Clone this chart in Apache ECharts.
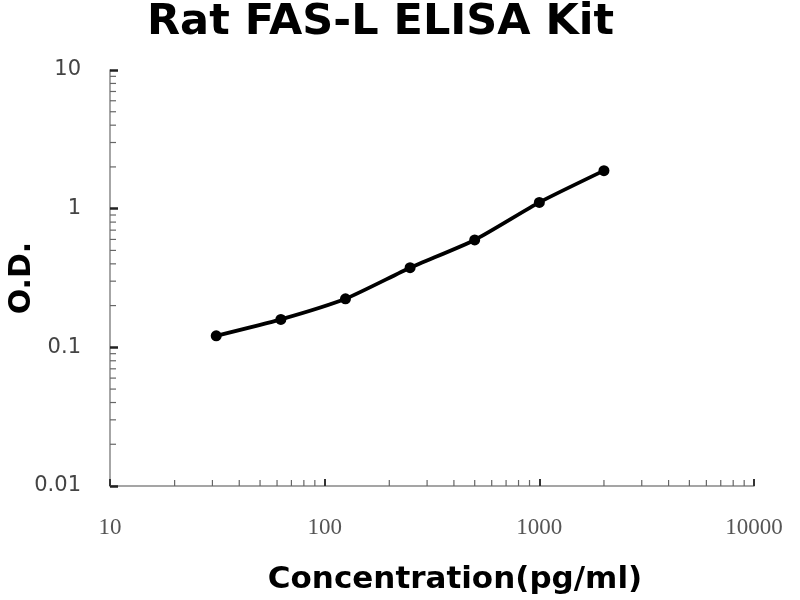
<!DOCTYPE html>
<html>
<head>
<meta charset="utf-8">
<script src="https://cdn.jsdelivr.net/npm/echarts@6/dist/echarts.min.js"></script>
<style>html,body{margin:0;padding:0;background:#fff}#c{width:800px;height:600px}</style>
</head>
<body>
<div id="c"></div>
<script>
// Data
var concentrations = [31.25, 62.5, 125, 250, 500, 1000, 2000];
var odValues = [0.121, 0.159, 0.224, 0.375, 0.595, 1.11, 1.88];
var xTickLabels = ['10', '100', '1000', '10000'];
var yTickLabels = ['0.01', '0.1', '1', '10'];
var xMinorTicks = [20,30,40,50,60,70,80,90,200,300,400,500,600,700,800,900,2000,3000,4000,5000,6000,7000,8000,9000];
var yMinorTicks = [0.02,0.03,0.04,0.05,0.06,0.07,0.08,0.09,0.2,0.3,0.4,0.5,0.6,0.7,0.8,0.9,2,3,4,5,6,7,8,9];

function pickLabel(list, v) {
  for (var i = 0; i < list.length; i++) {
    if (Math.abs(Math.log10(Number(list[i])) - Math.log10(v)) < 1e-6) return list[i];
  }
  return '';
}

var chart = echarts.init(document.getElementById('c'));
var xMin = Number(xTickLabels[0]), yMin = Number(yTickLabels[0]);
chart.setOption({
  animation: false,
  backgroundColor: '#fff',
  title: {
    text: 'Rat FAS-L ELISA Kit',
    left: 142, top: -4,
    textStyle: { fontFamily: 'DejaVu Sans', fontWeight: 'bold', fontSize: 43, color: '#000' }
  },
  grid: { left: 110, right: 46, top: 70, bottom: 114, containLabel: false, outerBoundsMode: 'none' },
  xAxis: {
    type: 'log', logBase: 10,
    min: Number(xTickLabels[0]), max: Number(xTickLabels[xTickLabels.length - 1]),
    name: 'Concentration(pg/ml)', nameLocation: 'middle', nameGap: 78, nameMoveOverlap: false,
    nameTextStyle: { fontFamily: 'DejaVu Sans', fontWeight: 'bold', fontSize: 31, color: '#000', padding: [0, 0, 0, 46] },
    axisLine: { show: true, lineStyle: { color: '#888', width: 1.5 } },
    axisTick: { show: true, inside: true, length: 7, lineStyle: { color: '#333', width: 2 } },
    axisLabel: { margin: 30, fontFamily: 'Liberation Serif', fontSize: 23, color: '#555',
      formatter: function (v) { return pickLabel(xTickLabels, v); } },
    splitLine: { show: false }
  },
  yAxis: {
    type: 'log', logBase: 10,
    min: Number(yTickLabels[0]), max: Number(yTickLabels[yTickLabels.length - 1]),
    name: 'O.D.', nameLocation: 'middle', nameGap: 73, nameRotate: 90, nameMoveOverlap: false,
    nameTextStyle: { fontFamily: 'DejaVu Sans', fontWeight: 'bold', fontSize: 30, color: '#000' },
    axisLine: { show: true, lineStyle: { color: '#888', width: 1.5 } },
    axisTick: { show: true, inside: true, length: 8, lineStyle: { color: '#222', width: 2.5 } },
    axisLabel: { margin: 29, fontFamily: 'DejaVu Sans', fontSize: 21, color: '#444',
      formatter: function (v) { return pickLabel(yTickLabels, v); } },
    splitLine: { show: false }
  },
  series: [
    {
      type: 'custom', silent: true, clip: false, z: 1,
      data: xMinorTicks.map(function (v) { return [v, yMin]; }),
      renderItem: function (params, api) {
        var p = api.coord([api.value(0), api.value(1)]);
        return { type: 'line', shape: { x1: p[0], y1: p[1], x2: p[0], y2: p[1] - 6 },
          style: { stroke: '#666', lineWidth: 1.2 } };
      }
    },
    {
      type: 'custom', silent: true, clip: false, z: 1,
      data: yMinorTicks.map(function (v) { return [xMin, v]; }),
      renderItem: function (params, api) {
        var p = api.coord([api.value(0), api.value(1)]);
        return { type: 'line', shape: { x1: p[0], y1: p[1], x2: p[0] + 6, y2: p[1] },
          style: { stroke: '#666', lineWidth: 1.2 } };
      }
    },
    {
      type: 'line', z: 3,
      data: concentrations.map(function (c, i) { return [c, odValues[i]]; }),
      smooth: 0.2,
      symbol: 'circle', symbolSize: 11,
      itemStyle: { color: '#000' },
      lineStyle: { color: '#000', width: 3.8 }
    }
  ]
});
</script>
</body>
</html>
